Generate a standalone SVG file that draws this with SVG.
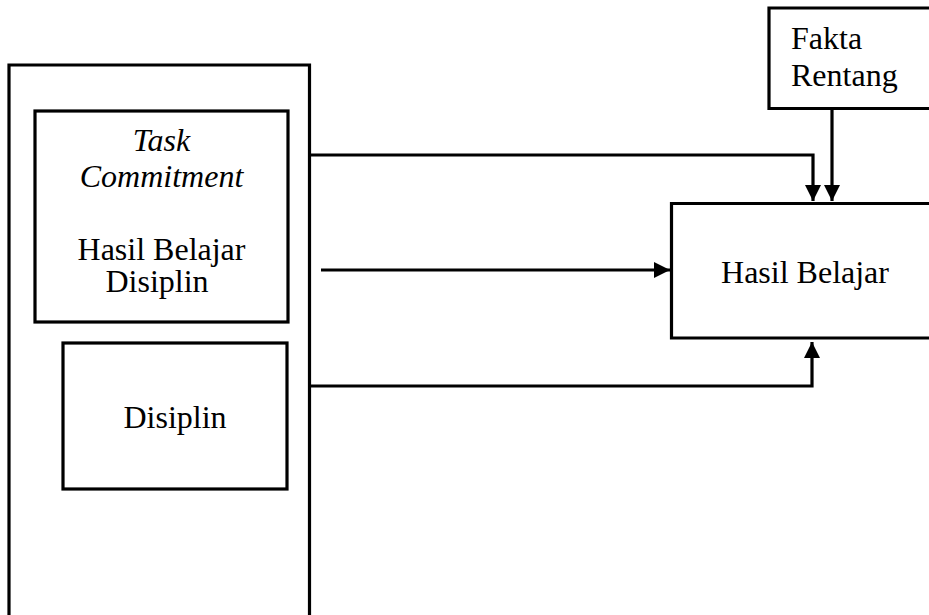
<svg xmlns="http://www.w3.org/2000/svg" width="929" height="615" viewBox="0 0 929 615">
<style>
.box{fill:none;stroke:#000;stroke-width:3.2}
.t{font-family:"Liberation Serif","Times New Roman",serif;font-size:32px;fill:#000}
.c{stroke:#000;stroke-width:3.2;fill:none}
</style>
<defs>
<marker id="ah" markerUnits="userSpaceOnUse" markerWidth="16" markerHeight="16" viewBox="0 0 16 16" refX="16" refY="8" orient="auto">
<path d="M0,0 L16,8 L0,16 Z" fill="#000"/>
</marker>
</defs>
<rect width="929" height="615" fill="#fff"/>
<g id="outer">
<path class="box" d="M9,625 V65 H309.5 V625"/>
</g>
<g id="task">
<rect class="box" x="35" y="111" width="253" height="211"/>
<text class="t" x="161.5" y="151" text-anchor="middle" font-style="italic">Task</text>
<text class="t" x="161.5" y="187" text-anchor="middle" font-style="italic">Commitment</text>
<text class="t" x="161.5" y="260" text-anchor="middle">Hasil Belajar</text>
<text class="t" x="157" y="292" text-anchor="middle">Disiplin</text>
</g>
<g id="disiplin">
<rect class="box" x="63" y="343" width="224" height="146"/>
<text class="t" x="175" y="428" text-anchor="middle">Disiplin</text>
</g>
<g id="fakta">
<path class="box" d="M935,8 H769 V108.5 H935"/>
<text class="t" x="791" y="49">Fakta</text>
<text class="t" x="791" y="86">Rentang</text>
</g>
<g id="hasil">
<path class="box" d="M935,203.5 H671.5 V338 H935"/>
<text class="t" x="805" y="283" text-anchor="middle">Hasil Belajar</text>
</g>
<g id="connectors">
<path class="c" d="M311,155 H813 V201" marker-end="url(#ah)"/>
<path class="c" d="M832,109 V201" marker-end="url(#ah)"/>
<path class="c" d="M321,270 H670" marker-end="url(#ah)"/>
<path class="c" d="M311,386 H812 V342" marker-end="url(#ah)"/>
</g>
</svg>
